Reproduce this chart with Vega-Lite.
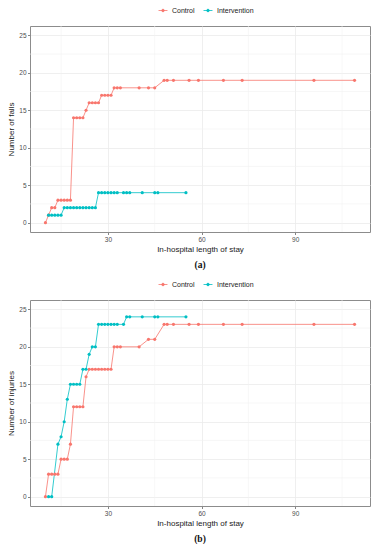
{
  "$schema": "https://vega.github.io/schema/vega-lite/v6.json",
  "background": "white",
  "padding": {"left": 7, "top": 5, "right": 2, "bottom": 0},
  "spacing": 9,
  "resolve": {"legend": {"color": "independent"}},
  "datasets": {
    "xminor": [{"v": 15}, {"v": 45}, {"v": 75}, {"v": 105}],
    "yminor": [{"v": 2.5}, {"v": 7.5}, {"v": 12.5}, {"v": 17.5}, {"v": 22.5}],
    "falls": [
      {"day": 10, "n": 0, "group": "Control"},
      {"day": 11, "n": 1, "group": "Control"},
      {"day": 12, "n": 2, "group": "Control"},
      {"day": 13, "n": 2, "group": "Control"},
      {"day": 14, "n": 3, "group": "Control"},
      {"day": 15, "n": 3, "group": "Control"},
      {"day": 16, "n": 3, "group": "Control"},
      {"day": 17, "n": 3, "group": "Control"},
      {"day": 18, "n": 3, "group": "Control"},
      {"day": 19, "n": 14, "group": "Control"},
      {"day": 20, "n": 14, "group": "Control"},
      {"day": 21, "n": 14, "group": "Control"},
      {"day": 22, "n": 14, "group": "Control"},
      {"day": 23, "n": 15, "group": "Control"},
      {"day": 24, "n": 16, "group": "Control"},
      {"day": 25, "n": 16, "group": "Control"},
      {"day": 26, "n": 16, "group": "Control"},
      {"day": 27, "n": 16, "group": "Control"},
      {"day": 28, "n": 17, "group": "Control"},
      {"day": 29, "n": 17, "group": "Control"},
      {"day": 30, "n": 17, "group": "Control"},
      {"day": 31, "n": 17, "group": "Control"},
      {"day": 32, "n": 18, "group": "Control"},
      {"day": 33, "n": 18, "group": "Control"},
      {"day": 34, "n": 18, "group": "Control"},
      {"day": 40, "n": 18, "group": "Control"},
      {"day": 43, "n": 18, "group": "Control"},
      {"day": 45, "n": 18, "group": "Control"},
      {"day": 48, "n": 19, "group": "Control"},
      {"day": 49, "n": 19, "group": "Control"},
      {"day": 51, "n": 19, "group": "Control"},
      {"day": 56, "n": 19, "group": "Control"},
      {"day": 59, "n": 19, "group": "Control"},
      {"day": 67, "n": 19, "group": "Control"},
      {"day": 73, "n": 19, "group": "Control"},
      {"day": 96, "n": 19, "group": "Control"},
      {"day": 109, "n": 19, "group": "Control"},
      {"day": 11, "n": 1, "group": "Intervention"},
      {"day": 12, "n": 1, "group": "Intervention"},
      {"day": 13, "n": 1, "group": "Intervention"},
      {"day": 14, "n": 1, "group": "Intervention"},
      {"day": 15, "n": 1, "group": "Intervention"},
      {"day": 16, "n": 2, "group": "Intervention"},
      {"day": 17, "n": 2, "group": "Intervention"},
      {"day": 18, "n": 2, "group": "Intervention"},
      {"day": 19, "n": 2, "group": "Intervention"},
      {"day": 20, "n": 2, "group": "Intervention"},
      {"day": 21, "n": 2, "group": "Intervention"},
      {"day": 22, "n": 2, "group": "Intervention"},
      {"day": 23, "n": 2, "group": "Intervention"},
      {"day": 24, "n": 2, "group": "Intervention"},
      {"day": 25, "n": 2, "group": "Intervention"},
      {"day": 26, "n": 2, "group": "Intervention"},
      {"day": 27, "n": 4, "group": "Intervention"},
      {"day": 28, "n": 4, "group": "Intervention"},
      {"day": 29, "n": 4, "group": "Intervention"},
      {"day": 30, "n": 4, "group": "Intervention"},
      {"day": 31, "n": 4, "group": "Intervention"},
      {"day": 32, "n": 4, "group": "Intervention"},
      {"day": 33, "n": 4, "group": "Intervention"},
      {"day": 35, "n": 4, "group": "Intervention"},
      {"day": 36, "n": 4, "group": "Intervention"},
      {"day": 37, "n": 4, "group": "Intervention"},
      {"day": 41, "n": 4, "group": "Intervention"},
      {"day": 45, "n": 4, "group": "Intervention"},
      {"day": 46, "n": 4, "group": "Intervention"},
      {"day": 55, "n": 4, "group": "Intervention"}
    ],
    "injuries": [
      {"day": 10, "n": 0, "group": "Control"},
      {"day": 11, "n": 3, "group": "Control"},
      {"day": 12, "n": 3, "group": "Control"},
      {"day": 13, "n": 3, "group": "Control"},
      {"day": 14, "n": 3, "group": "Control"},
      {"day": 15, "n": 5, "group": "Control"},
      {"day": 16, "n": 5, "group": "Control"},
      {"day": 17, "n": 5, "group": "Control"},
      {"day": 18, "n": 7, "group": "Control"},
      {"day": 19, "n": 12, "group": "Control"},
      {"day": 20, "n": 12, "group": "Control"},
      {"day": 21, "n": 12, "group": "Control"},
      {"day": 22, "n": 12, "group": "Control"},
      {"day": 23, "n": 16, "group": "Control"},
      {"day": 24, "n": 17, "group": "Control"},
      {"day": 25, "n": 17, "group": "Control"},
      {"day": 26, "n": 17, "group": "Control"},
      {"day": 27, "n": 17, "group": "Control"},
      {"day": 28, "n": 17, "group": "Control"},
      {"day": 29, "n": 17, "group": "Control"},
      {"day": 30, "n": 17, "group": "Control"},
      {"day": 31, "n": 17, "group": "Control"},
      {"day": 32, "n": 20, "group": "Control"},
      {"day": 33, "n": 20, "group": "Control"},
      {"day": 34, "n": 20, "group": "Control"},
      {"day": 40, "n": 20, "group": "Control"},
      {"day": 43, "n": 21, "group": "Control"},
      {"day": 45, "n": 21, "group": "Control"},
      {"day": 48, "n": 23, "group": "Control"},
      {"day": 49, "n": 23, "group": "Control"},
      {"day": 51, "n": 23, "group": "Control"},
      {"day": 56, "n": 23, "group": "Control"},
      {"day": 59, "n": 23, "group": "Control"},
      {"day": 67, "n": 23, "group": "Control"},
      {"day": 73, "n": 23, "group": "Control"},
      {"day": 96, "n": 23, "group": "Control"},
      {"day": 109, "n": 23, "group": "Control"},
      {"day": 11, "n": 0, "group": "Intervention"},
      {"day": 12, "n": 0, "group": "Intervention"},
      {"day": 14, "n": 7, "group": "Intervention"},
      {"day": 15, "n": 8, "group": "Intervention"},
      {"day": 16, "n": 10, "group": "Intervention"},
      {"day": 17, "n": 13, "group": "Intervention"},
      {"day": 18, "n": 15, "group": "Intervention"},
      {"day": 19, "n": 15, "group": "Intervention"},
      {"day": 20, "n": 15, "group": "Intervention"},
      {"day": 21, "n": 15, "group": "Intervention"},
      {"day": 22, "n": 17, "group": "Intervention"},
      {"day": 23, "n": 17, "group": "Intervention"},
      {"day": 24, "n": 19, "group": "Intervention"},
      {"day": 25, "n": 20, "group": "Intervention"},
      {"day": 26, "n": 20, "group": "Intervention"},
      {"day": 27, "n": 23, "group": "Intervention"},
      {"day": 28, "n": 23, "group": "Intervention"},
      {"day": 29, "n": 23, "group": "Intervention"},
      {"day": 30, "n": 23, "group": "Intervention"},
      {"day": 31, "n": 23, "group": "Intervention"},
      {"day": 32, "n": 23, "group": "Intervention"},
      {"day": 33, "n": 23, "group": "Intervention"},
      {"day": 35, "n": 23, "group": "Intervention"},
      {"day": 36, "n": 24, "group": "Intervention"},
      {"day": 37, "n": 24, "group": "Intervention"},
      {"day": 41, "n": 24, "group": "Intervention"},
      {"day": 45, "n": 24, "group": "Intervention"},
      {"day": 46, "n": 24, "group": "Intervention"},
      {"day": 55, "n": 24, "group": "Intervention"}
    ]
  },
  "vconcat": [
    {
      "width": 340,
      "height": 206,
      "title": {"text": "(a)", "orient": "bottom", "anchor": "middle", "font": "Liberation Serif", "fontWeight": "bold", "fontSize": 9.5, "color": "#111", "offset": 7},
      "layer": [
        {
          "data": {"name": "xminor"},
          "mark": {"type": "rule", "stroke": "#F2F2F2", "strokeWidth": 0.6},
          "encoding": {"x": {"field": "v", "type": "quantitative", "scale": {"domain": [5.05, 113.95], "nice": false, "zero": false}, "axis": {"title": "In-hospital length of stay", "values": [30, 60, 90], "grid": true}}}
        },
        {
          "data": {"name": "yminor"},
          "mark": {"type": "rule", "stroke": "#F2F2F2", "strokeWidth": 0.6},
          "encoding": {"y": {"field": "v", "type": "quantitative", "scale": {"domain": [-1.25, 26.25], "nice": false, "zero": false}, "axis": {"title": "Number of falls", "values": [0, 5, 10, 15, 20, 25], "grid": true}}}
        },
        {
          "data": {"name": "falls"},
          "mark": {"type": "line", "strokeWidth": 0.8},
          "encoding": {
            "x": {"field": "day", "type": "quantitative", "axis": {"title": "In-hospital length of stay", "values": [30, 60, 90], "grid": true}},
            "y": {"field": "n", "type": "quantitative", "axis": {"title": "Number of falls", "values": [0, 5, 10, 15, 20, 25], "grid": true}},
            "color": {"field": "group", "type": "nominal", "scale": {"domain": ["Control", "Intervention"], "range": ["#F8766D", "#00BFC4"]},
              "legend": {"title": null, "orient": "none", "legendX": 128, "legendY": -20.5, "direction": "horizontal",
                "symbolType": "M-1,0H1M-0.3,0A0.3,0.3,0,1,0,0.3,0A0.3,0.3,0,1,0,-0.3,0Z", "symbolSize": 80, "symbolStrokeWidth": 0.8,
                "labelFontSize": 7, "labelColor": "#222", "columnPadding": 6,
                "encode": {"symbols": {"update": {"fill": {"scale": "color", "field": "value"}}}}}},
            "order": {"field": "day", "type": "quantitative"}
          }
        },
        {
          "data": {"name": "falls"},
          "mark": {"type": "circle", "size": 10, "opacity": 1},
          "encoding": {
            "x": {"field": "day", "type": "quantitative", "axis": {"title": "In-hospital length of stay", "values": [30, 60, 90], "grid": true}},
            "y": {"field": "n", "type": "quantitative", "axis": {"title": "Number of falls", "values": [0, 5, 10, 15, 20, 25], "grid": true}},
            "color": {"field": "group", "type": "nominal", "legend": null}
          }
        }
      ]
    },
    {
      "width": 340,
      "height": 206,
      "title": {"text": "(b)", "orient": "bottom", "anchor": "middle", "font": "Liberation Serif", "fontWeight": "bold", "fontSize": 9.5, "color": "#111", "offset": 7},
      "layer": [
        {
          "data": {"name": "xminor"},
          "mark": {"type": "rule", "stroke": "#F2F2F2", "strokeWidth": 0.6},
          "encoding": {"x": {"field": "v", "type": "quantitative", "scale": {"domain": [5.05, 113.95], "nice": false, "zero": false}, "axis": {"title": "In-hospital length of stay", "values": [30, 60, 90], "grid": true}}}
        },
        {
          "data": {"name": "yminor"},
          "mark": {"type": "rule", "stroke": "#F2F2F2", "strokeWidth": 0.6},
          "encoding": {"y": {"field": "v", "type": "quantitative", "scale": {"domain": [-1.25, 26.25], "nice": false, "zero": false}, "axis": {"title": "Number of injuries", "values": [0, 5, 10, 15, 20, 25], "grid": true}}}
        },
        {
          "data": {"name": "injuries"},
          "mark": {"type": "line", "strokeWidth": 0.8},
          "encoding": {
            "x": {"field": "day", "type": "quantitative", "axis": {"title": "In-hospital length of stay", "values": [30, 60, 90], "grid": true}},
            "y": {"field": "n", "type": "quantitative", "axis": {"title": "Number of injuries", "values": [0, 5, 10, 15, 20, 25], "grid": true}},
            "color": {"field": "group", "type": "nominal", "scale": {"domain": ["Control", "Intervention"], "range": ["#F8766D", "#00BFC4"]},
              "legend": {"title": null, "orient": "none", "legendX": 128, "legendY": -20.5, "direction": "horizontal",
                "symbolType": "M-1,0H1M-0.3,0A0.3,0.3,0,1,0,0.3,0A0.3,0.3,0,1,0,-0.3,0Z", "symbolSize": 80, "symbolStrokeWidth": 0.8,
                "labelFontSize": 7, "labelColor": "#222", "columnPadding": 6,
                "encode": {"symbols": {"update": {"fill": {"scale": "color", "field": "value"}}}}}},
            "order": {"field": "day", "type": "quantitative"}
          }
        },
        {
          "data": {"name": "injuries"},
          "mark": {"type": "circle", "size": 10, "opacity": 1},
          "encoding": {
            "x": {"field": "day", "type": "quantitative", "axis": {"title": "In-hospital length of stay", "values": [30, 60, 90], "grid": true}},
            "y": {"field": "n", "type": "quantitative", "axis": {"title": "Number of injuries", "values": [0, 5, 10, 15, 20, 25], "grid": true}},
            "color": {"field": "group", "type": "nominal", "legend": null}
          }
        }
      ]
    }
  ],
  "config": {
    "font": "Liberation Sans",
    "view": {"stroke": "#8c8c8c", "strokeWidth": 1},
    "axis": {
      "domain": false,
      "gridColor": "#EBEBEB",
      "gridWidth": 0.8,
      "tickColor": "#333333",
      "tickSize": 2.5,
      "tickWidth": 0.6,
      "labelFont": "Liberation Sans",
      "labelFontSize": 6.5,
      "labelColor": "#4D4D4D",
      "labelPadding": 1.5,
      "titleFont": "Liberation Sans",
      "titleFontSize": 8,
      "titleFontWeight": "normal",
      "titleColor": "#1a1a1a"
    },
    "axisX": {"titlePadding": 2.5},
    "axisY": {"titlePadding": 3}
  }
}
